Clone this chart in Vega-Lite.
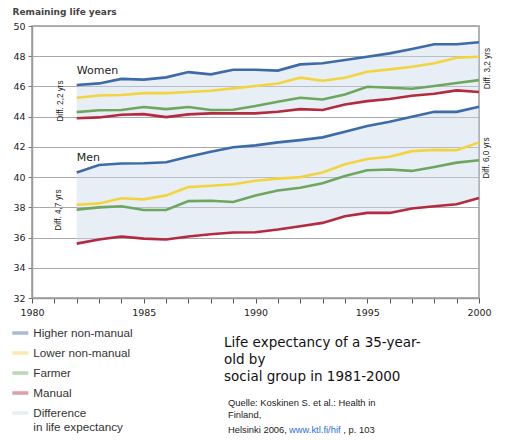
{
  "$schema": "https://vega.github.io/schema/vega-lite/v6.json",
  "width": 447,
  "height": 272,
  "autosize": {"type": "none"},
  "padding": {"left": 32, "top": 26, "right": 33, "bottom": 143},
  "background": "white",
  "config": {
    "view": {"stroke": "#9a9a9a", "strokeWidth": 1.5},
    "font": "DejaVu Sans",
    "axisX": {
      "grid": false, "domainColor": "#9a9a9a", "domainWidth": 1.5,
      "tickColor": "#555", "tickSize": 5, "tickWidth": 1,
      "labelFontSize": 9.5, "labelColor": "#222", "labelPadding": 4,
      "labelFlush": false, "labelOverlap": false
    },
    "axisY": {
      "titleAngle": 0, "titleAlign": "left", "titleBaseline": "alphabetic",
      "titleX": -20, "titleY": -12,
      "titleFontSize": 9, "titleFontWeight": "bold", "titleColor": "#444",
      "grid": true, "gridColor": "#a8a8a8", "gridWidth": 1,
      "domainColor": "#9a9a9a", "domainWidth": 1.5,
      "tickColor": "#777", "tickSize": 4,
      "labelFontSize": 9.5, "labelColor": "#222", "labelPadding": 3, "labelOverlap": false
    }
  },
  "data": {
    "values": [
      {"gender": "Women", "year": 1982, "Higher non-manual": 46.1, "Lower non-manual": 45.25, "Farmer": 44.3, "Manual": 43.9},
      {"gender": "Women", "year": 1983, "Higher non-manual": 46.2, "Lower non-manual": 45.4, "Farmer": 44.42, "Manual": 43.95},
      {"gender": "Women", "year": 1984, "Higher non-manual": 46.5, "Lower non-manual": 45.43, "Farmer": 44.44, "Manual": 44.13},
      {"gender": "Women", "year": 1985, "Higher non-manual": 46.45, "Lower non-manual": 45.56, "Farmer": 44.64, "Manual": 44.17},
      {"gender": "Women", "year": 1986, "Higher non-manual": 46.6, "Lower non-manual": 45.56, "Farmer": 44.5, "Manual": 43.97},
      {"gender": "Women", "year": 1987, "Higher non-manual": 46.95, "Lower non-manual": 45.63, "Farmer": 44.64, "Manual": 44.15},
      {"gender": "Women", "year": 1988, "Higher non-manual": 46.8, "Lower non-manual": 45.72, "Farmer": 44.44, "Manual": 44.22},
      {"gender": "Women", "year": 1989, "Higher non-manual": 47.1, "Lower non-manual": 45.87, "Farmer": 44.46, "Manual": 44.22},
      {"gender": "Women", "year": 1990, "Higher non-manual": 47.1, "Lower non-manual": 46.03, "Farmer": 44.7, "Manual": 44.22},
      {"gender": "Women", "year": 1991, "Higher non-manual": 47.05, "Lower non-manual": 46.2, "Farmer": 44.99, "Manual": 44.33},
      {"gender": "Women", "year": 1992, "Higher non-manual": 47.46, "Lower non-manual": 46.58, "Farmer": 45.25, "Manual": 44.5},
      {"gender": "Women", "year": 1993, "Higher non-manual": 47.53, "Lower non-manual": 46.38, "Farmer": 45.14, "Manual": 44.44},
      {"gender": "Women", "year": 1994, "Higher non-manual": 47.75, "Lower non-manual": 46.58, "Farmer": 45.47, "Manual": 44.81},
      {"gender": "Women", "year": 1995, "Higher non-manual": 47.97, "Lower non-manual": 46.97, "Farmer": 45.98, "Manual": 45.03},
      {"gender": "Women", "year": 1996, "Higher non-manual": 48.19, "Lower non-manual": 47.13, "Farmer": 45.91, "Manual": 45.17},
      {"gender": "Women", "year": 1997, "Higher non-manual": 48.48, "Lower non-manual": 47.3, "Farmer": 45.85, "Manual": 45.38},
      {"gender": "Women", "year": 1998, "Higher non-manual": 48.79, "Lower non-manual": 47.53, "Farmer": 46.03, "Manual": 45.52},
      {"gender": "Women", "year": 1999, "Higher non-manual": 48.79, "Lower non-manual": 47.9, "Farmer": 46.23, "Manual": 45.74},
      {"gender": "Women", "year": 2000, "Higher non-manual": 48.92, "Lower non-manual": 47.97, "Farmer": 46.42, "Manual": 45.63},
      {"gender": "Men", "year": 1982, "Higher non-manual": 40.3, "Lower non-manual": 38.17, "Farmer": 37.85, "Manual": 35.6},
      {"gender": "Men", "year": 1983, "Higher non-manual": 40.8, "Lower non-manual": 38.26, "Farmer": 38.0, "Manual": 35.87},
      {"gender": "Men", "year": 1984, "Higher non-manual": 40.9, "Lower non-manual": 38.6, "Farmer": 38.07, "Manual": 36.07},
      {"gender": "Men", "year": 1985, "Higher non-manual": 40.92, "Lower non-manual": 38.53, "Farmer": 37.82, "Manual": 35.93},
      {"gender": "Men", "year": 1986, "Higher non-manual": 40.98, "Lower non-manual": 38.79, "Farmer": 37.82, "Manual": 35.87},
      {"gender": "Men", "year": 1987, "Higher non-manual": 41.35, "Lower non-manual": 39.34, "Farmer": 38.41, "Manual": 36.07},
      {"gender": "Men", "year": 1988, "Higher non-manual": 41.68, "Lower non-manual": 39.43, "Farmer": 38.44, "Manual": 36.22},
      {"gender": "Men", "year": 1989, "Higher non-manual": 41.98, "Lower non-manual": 39.53, "Farmer": 38.35, "Manual": 36.33},
      {"gender": "Men", "year": 1990, "Higher non-manual": 42.1, "Lower non-manual": 39.76, "Farmer": 38.79, "Manual": 36.35},
      {"gender": "Men", "year": 1991, "Higher non-manual": 42.3, "Lower non-manual": 39.9, "Farmer": 39.12, "Manual": 36.53},
      {"gender": "Men", "year": 1992, "Higher non-manual": 42.45, "Lower non-manual": 40.0, "Farmer": 39.3, "Manual": 36.75},
      {"gender": "Men", "year": 1993, "Higher non-manual": 42.63, "Lower non-manual": 40.3, "Farmer": 39.6, "Manual": 36.97},
      {"gender": "Men", "year": 1994, "Higher non-manual": 43.0, "Lower non-manual": 40.85, "Farmer": 40.07, "Manual": 37.41},
      {"gender": "Men", "year": 1995, "Higher non-manual": 43.38, "Lower non-manual": 41.2, "Farmer": 40.45, "Manual": 37.63},
      {"gender": "Men", "year": 1996, "Higher non-manual": 43.66, "Lower non-manual": 41.35, "Farmer": 40.5, "Manual": 37.63},
      {"gender": "Men", "year": 1997, "Higher non-manual": 43.99, "Lower non-manual": 41.72, "Farmer": 40.41, "Manual": 37.92},
      {"gender": "Men", "year": 1998, "Higher non-manual": 44.32, "Lower non-manual": 41.8, "Farmer": 40.67, "Manual": 38.07},
      {"gender": "Men", "year": 1999, "Higher non-manual": 44.32, "Lower non-manual": 41.78, "Farmer": 40.96, "Manual": 38.2},
      {"gender": "Men", "year": 2000, "Higher non-manual": 44.65, "Lower non-manual": 42.3, "Farmer": 41.12, "Manual": 38.62}
    ]
  },
  "layer": [
    {
      "mark": {"type": "area", "opacity": 0.45},
      "encoding": {
        "x": {"field": "year", "type": "quantitative", "scale": {"domain": [1980, 2000], "nice": false, "zero": false},
          "axis": {"title": null, "format": "d", "labelExpr": "datum.value % 5 === 0 ? datum.label : ''", "values": [1980, 1981, 1982, 1983, 1984, 1985, 1986, 1987, 1988, 1989, 1990, 1991, 1992, 1993, 1994, 1995, 1996, 1997, 1998, 1999, 2000]}},
        "y": {"field": "Manual", "type": "quantitative", "scale": {"domain": [32, 50], "nice": false, "zero": false},
          "axis": {"title": "Remaining life years", "values": [32, 34, 36, 38, 40, 42, 44, 46, 48, 50]}},
        "y2": {"field": "Higher non-manual"},
        "detail": {"field": "gender"},
        "color": {
          "datum": "Difference", "type": "nominal", "title": null,
          "scale": {
            "domain": ["Higher non-manual", "Lower non-manual", "Farmer", "Manual", "Difference"],
            "range": ["#3d6ba8", "#f3d43f", "#6ea65e", "#b42a3e", "#c9d9ec"]
          },
          "legend": {
            "orient": "none", "legendX": -19.7, "legendY": 299, "title": null, "direction": "vertical",
            "symbolType": "M-1,-0.22H1V0.22H-1Z", "symbolSize": 256, "symbolStrokeWidth": 0,
            "labelFont": "Liberation Sans", "labelFontSize": 11.7, "labelColor": "#333",
            "labelOffset": 5, "labelLimit": 300, "rowPadding": 5, "padding": 0,
            "labelExpr": "datum.value === 'Difference' ? ['Difference', 'in life expectancy'] : datum.label",
            "encode": {
              "symbols": {"update": {
                "shape": {"signal": "datum.value === 'Difference' ? 'square' : 'M-1,-0.22H1V0.22H-1Z'"},
                "fill": {"signal": "datum.value === 'Difference' ? '#e8eef6' : scale('color', datum.value)"},
                "stroke": {"value": "transparent"},
                "opacity": {"value": 1}
              }},
              "labels": {"update": {"lineHeight": {"value": 14}}}
            }
          }
        }
      }
    },
    {
      "transform": [{"fold": ["Higher non-manual", "Lower non-manual", "Farmer", "Manual"], "as": ["group", "value"]}],
      "mark": {"type": "line", "strokeWidth": 2.6},
      "encoding": {
        "x": {"field": "year", "type": "quantitative", "scale": {"domain": [1980, 2000], "nice": false, "zero": false},
          "axis": {"title": null, "format": "d", "labelExpr": "datum.value % 5 === 0 ? datum.label : ''", "values": [1980, 1981, 1982, 1983, 1984, 1985, 1986, 1987, 1988, 1989, 1990, 1991, 1992, 1993, 1994, 1995, 1996, 1997, 1998, 1999, 2000]}},
        "y": {"field": "value", "type": "quantitative", "scale": {"domain": [32, 50], "nice": false, "zero": false},
          "axis": {"title": "Remaining life years", "values": [32, 34, 36, 38, 40, 42, 44, 46, 48, 50]}},
        "detail": {"field": "gender"},
        "color": {"field": "group", "type": "nominal", "title": null, "legend": {"title": null}}
      }
    },
    {
      "data": {"values": [{}]},
      "mark": {"type": "text", "align": "left", "baseline": "alphabetic", "fontSize": 11, "color": "#222", "text": "Women"},
      "encoding": {
        "x": {"datum": 1982.0, "type": "quantitative", "axis": {"title": null, "format": "d", "labelExpr": "datum.value % 5 === 0 ? datum.label : ''", "values": [1980, 1981, 1982, 1983, 1984, 1985, 1986, 1987, 1988, 1989, 1990, 1991, 1992, 1993, 1994, 1995, 1996, 1997, 1998, 1999, 2000]}},
        "y": {"datum": 46.82, "type": "quantitative", "axis": {"title": "Remaining life years", "values": [32, 34, 36, 38, 40, 42, 44, 46, 48, 50]}}
      }
    },
    {
      "data": {"values": [{}]},
      "mark": {"type": "text", "align": "left", "baseline": "alphabetic", "fontSize": 11, "color": "#222", "text": "Men"},
      "encoding": {
        "x": {"datum": 1982.0, "type": "quantitative", "axis": {"title": null, "format": "d", "labelExpr": "datum.value % 5 === 0 ? datum.label : ''", "values": [1980, 1981, 1982, 1983, 1984, 1985, 1986, 1987, 1988, 1989, 1990, 1991, 1992, 1993, 1994, 1995, 1996, 1997, 1998, 1999, 2000]}},
        "y": {"datum": 41.09, "type": "quantitative", "axis": {"title": "Remaining life years", "values": [32, 34, 36, 38, 40, 42, 44, 46, 48, 50]}}
      }
    },
    {
      "data": {"values": [{}]},
      "mark": {"type": "text", "angle": 270, "align": "center", "baseline": "middle", "font": "Liberation Sans", "fontSize": 8.2, "color": "#222", "text": "Diff. 2,2 yrs"},
      "encoding": {
        "x": {"datum": 1981.28, "type": "quantitative", "axis": {"title": null, "format": "d", "labelExpr": "datum.value % 5 === 0 ? datum.label : ''", "values": [1980, 1981, 1982, 1983, 1984, 1985, 1986, 1987, 1988, 1989, 1990, 1991, 1992, 1993, 1994, 1995, 1996, 1997, 1998, 1999, 2000]}},
        "y": {"datum": 45.04, "type": "quantitative", "axis": {"title": "Remaining life years", "values": [32, 34, 36, 38, 40, 42, 44, 46, 48, 50]}}
      }
    },
    {
      "data": {"values": [{}]},
      "mark": {"type": "text", "angle": 270, "align": "center", "baseline": "middle", "font": "Liberation Sans", "fontSize": 8.2, "color": "#222", "text": "Diff. 4,7 yrs"},
      "encoding": {
        "x": {"datum": 1981.23, "type": "quantitative", "axis": {"title": null, "format": "d", "labelExpr": "datum.value % 5 === 0 ? datum.label : ''", "values": [1980, 1981, 1982, 1983, 1984, 1985, 1986, 1987, 1988, 1989, 1990, 1991, 1992, 1993, 1994, 1995, 1996, 1997, 1998, 1999, 2000]}},
        "y": {"datum": 37.82, "type": "quantitative", "axis": {"title": "Remaining life years", "values": [32, 34, 36, 38, 40, 42, 44, 46, 48, 50]}}
      }
    },
    {
      "data": {"values": [{}]},
      "mark": {"type": "text", "angle": 270, "align": "center", "baseline": "middle", "font": "Liberation Sans", "fontSize": 8.2, "color": "#222", "text": "Diff. 3,2 yrs"},
      "encoding": {
        "x": {"datum": 2000.4, "type": "quantitative", "axis": {"title": null, "format": "d", "labelExpr": "datum.value % 5 === 0 ? datum.label : ''", "values": [1980, 1981, 1982, 1983, 1984, 1985, 1986, 1987, 1988, 1989, 1990, 1991, 1992, 1993, 1994, 1995, 1996, 1997, 1998, 1999, 2000]}},
        "y": {"datum": 47.18, "type": "quantitative", "axis": {"title": "Remaining life years", "values": [32, 34, 36, 38, 40, 42, 44, 46, 48, 50]}}
      }
    },
    {
      "data": {"values": [{}]},
      "mark": {"type": "text", "angle": 270, "align": "center", "baseline": "middle", "font": "Liberation Sans", "fontSize": 8.2, "color": "#222", "text": "Diff. 6,0 yrs"},
      "encoding": {
        "x": {"datum": 2000.36, "type": "quantitative", "axis": {"title": null, "format": "d", "labelExpr": "datum.value % 5 === 0 ? datum.label : ''", "values": [1980, 1981, 1982, 1983, 1984, 1985, 1986, 1987, 1988, 1989, 1990, 1991, 1992, 1993, 1994, 1995, 1996, 1997, 1998, 1999, 2000]}},
        "y": {"datum": 41.26, "type": "quantitative", "axis": {"title": "Remaining life years", "values": [32, 34, 36, 38, 40, 42, 44, 46, 48, 50]}}
      }
    },
    {
      "data": {"values": [{}]},
      "mark": {"type": "text", "align": "left", "baseline": "alphabetic", "fontSize": 13.5, "lineHeight": 17, "color": "#111", "text": ["Life expectancy of a 35-year-", "old by", "social group in 1981-2000"]},
      "encoding": {
        "x": {"datum": 1988.59, "type": "quantitative", "axis": {"title": null, "format": "d", "labelExpr": "datum.value % 5 === 0 ? datum.label : ''", "values": [1980, 1981, 1982, 1983, 1984, 1985, 1986, 1987, 1988, 1989, 1990, 1991, 1992, 1993, 1994, 1995, 1996, 1997, 1998, 1999, 2000]}},
        "y": {"datum": 28.78, "type": "quantitative", "axis": {"title": "Remaining life years", "values": [32, 34, 36, 38, 40, 42, 44, 46, 48, 50]}}
      }
    },
    {
      "data": {"values": [{}]},
      "mark": {"type": "text", "align": "left", "baseline": "alphabetic", "font": "Liberation Sans", "fontSize": 9.4, "lineHeight": 11.5, "color": "#222", "text": ["Quelle: Koskinen S. et al.: Health in", "Finland,"]},
      "encoding": {
        "x": {"datum": 1988.77, "type": "quantitative", "axis": {"title": null, "format": "d", "labelExpr": "datum.value % 5 === 0 ? datum.label : ''", "values": [1980, 1981, 1982, 1983, 1984, 1985, 1986, 1987, 1988, 1989, 1990, 1991, 1992, 1993, 1994, 1995, 1996, 1997, 1998, 1999, 2000]}},
        "y": {"datum": 24.82, "type": "quantitative", "axis": {"title": "Remaining life years", "values": [32, 34, 36, 38, 40, 42, 44, 46, 48, 50]}}
      }
    },
    {
      "data": {"values": [{}]},
      "mark": {"type": "text", "align": "left", "baseline": "alphabetic", "font": "Liberation Sans", "fontSize": 9.4, "color": "#222", "text": "Helsinki 2006,"},
      "encoding": {
        "x": {"datum": 1988.77, "type": "quantitative", "axis": {"title": null, "format": "d", "labelExpr": "datum.value % 5 === 0 ? datum.label : ''", "values": [1980, 1981, 1982, 1983, 1984, 1985, 1986, 1987, 1988, 1989, 1990, 1991, 1992, 1993, 1994, 1995, 1996, 1997, 1998, 1999, 2000]}},
        "y": {"datum": 23.09, "type": "quantitative", "axis": {"title": "Remaining life years", "values": [32, 34, 36, 38, 40, 42, 44, 46, 48, 50]}}
      }
    },
    {
      "data": {"values": [{}]},
      "mark": {"type": "text", "align": "left", "baseline": "alphabetic", "font": "Liberation Sans", "fontSize": 9.4, "color": "#2a6fd6", "text": "www.ktl.fi/hif"},
      "encoding": {
        "x": {"datum": 1991.5, "type": "quantitative", "axis": {"title": null, "format": "d", "labelExpr": "datum.value % 5 === 0 ? datum.label : ''", "values": [1980, 1981, 1982, 1983, 1984, 1985, 1986, 1987, 1988, 1989, 1990, 1991, 1992, 1993, 1994, 1995, 1996, 1997, 1998, 1999, 2000]}},
        "y": {"datum": 23.09, "type": "quantitative", "axis": {"title": "Remaining life years", "values": [32, 34, 36, 38, 40, 42, 44, 46, 48, 50]}}
      }
    },
    {
      "data": {"values": [{}]},
      "mark": {"type": "text", "align": "left", "baseline": "alphabetic", "font": "Liberation Sans", "fontSize": 9.4, "color": "#222", "text": ", p. 103"},
      "encoding": {
        "x": {"datum": 1993.93, "type": "quantitative", "axis": {"title": null, "format": "d", "labelExpr": "datum.value % 5 === 0 ? datum.label : ''", "values": [1980, 1981, 1982, 1983, 1984, 1985, 1986, 1987, 1988, 1989, 1990, 1991, 1992, 1993, 1994, 1995, 1996, 1997, 1998, 1999, 2000]}},
        "y": {"datum": 23.09, "type": "quantitative", "axis": {"title": "Remaining life years", "values": [32, 34, 36, 38, 40, 42, 44, 46, 48, 50]}}
      }
    }
  ]
}
